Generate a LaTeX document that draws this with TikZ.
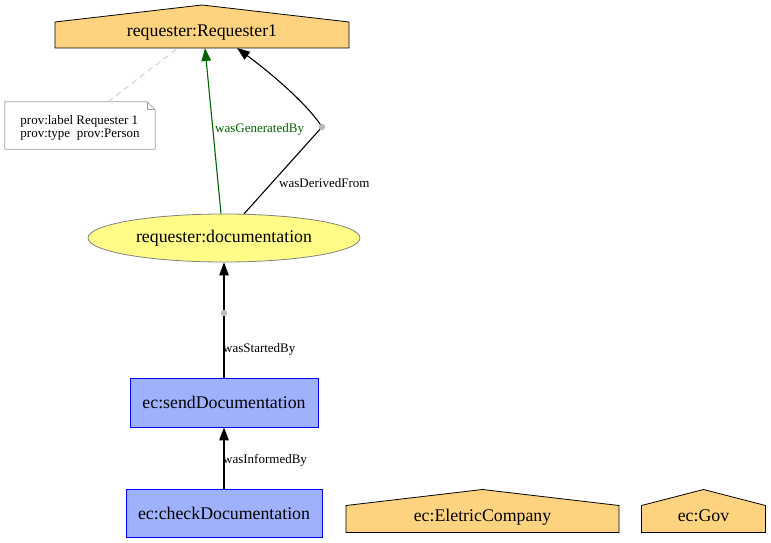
\documentclass[tikz,border=0pt]{standalone}
\usepackage{fontspec}
\setmainfont{Liberation Serif}
\usetikzlibrary{arrows.meta,shapes.geometric,calc}
\definecolor{agentfill}{RGB}{254,211,127}
\definecolor{actfill}{RGB}{159,177,252}
\definecolor{entfill}{RGB}{255,252,135}
\definecolor{gengreen}{RGB}{0,100,0}
\definecolor{dotgray}{RGB}{185,185,185}
\definecolor{dashgray}{RGB}{200,200,200}
\definecolor{notegray}{RGB}{160,160,160}

% house outline around a named node: #1 node name, #2 shoulder depth
\newcommand\drawhouse[2]{%
  \draw[houseline] (#1.south west) -- ($(#1.north west)+(0,#2)$) -- (#1.north)
    -- ($(#1.north east)+(0,#2)$) -- (#1.south east) -- cycle;}

\begin{document}
\begin{tikzpicture}[x=1pt,y=-1pt,
  big/.style={font=\fontsize{17.8}{20}\selectfont},
  small/.style={font=\fontsize{13}{13}\selectfont},
  agent/.style={big,inner sep=0pt,outer sep=0pt,text height=24pt,text depth=3.6pt},
  houseline/.style={draw=black,fill=agentfill,line width=0.8pt},
  activity/.style={big,draw=blue,fill=actfill,line width=0.8pt,inner sep=0pt,minimum height=48pt},
  entity/.style={big,ellipse,draw=gray,fill=entfill,line width=0.8pt,inner sep=0pt,minimum width=272pt,minimum height=48pt},
  joint/.style={circle,inner sep=0pt,minimum size=6.5pt},
  edge/.style={black,line width=1.1pt},
  tip/.style={-{Triangle[length=13pt,width=9.5pt]}},
  elabel/.style={small,anchor=base west,inner sep=0pt},
  notebox/.style={small,align=left,inner sep=0pt,minimum width=150pt,minimum height=47pt}
]
\useasboundingbox (0,0) rectangle (771,543);

% agents (house shapes)
\node[agent,minimum width=294pt,minimum height=43pt] (req) at (202,26.5) {};
\drawhouse{req}{17}
\node[agent] at (req) {requester:Requester1};

\node[agent,minimum width=273pt,minimum height=43pt] (ec) at (482.5,511) {};
\drawhouse{ec}{16}
\node[agent] at (ec) {ec:EletricCompany};

\node[agent,minimum width=124pt,minimum height=43pt] (gov) at (703.5,511) {};
\drawhouse{gov}{16}
\node[agent] at (gov) {ec:Gov};

% entity and activities
\node[entity] (doc) at (224,238) {requester:documentation};
\node[activity,minimum width=188pt,minimum height=49pt] (send) at (224,402.5) {ec:sendDocumentation};
\node[activity,minimum width=196pt] (check) at (224,513) {ec:checkDocumentation};

% attribute note with folded corner
\node[notebox] (note) at (80,125.5) {};
\draw[notegray,line width=0.7pt,fill=white] (note.south west) -- (note.north west)
  -- ($(note.north east)+(-8,0)$) -- ($(note.north east)+(0,8)$) -- (note.south east) -- cycle;
\draw[notegray,line width=0.7pt] ($(note.north east)+(-8,0)$) -- ($(note.north east)+(-8,8)$)
  -- ($(note.north east)+(0,8)$);
\node[small,align=left,inner sep=0pt] (notetext) at ($(note)+(0,2)$) {prov:label Requester 1\\prov:type\ \ prov:Person};
\draw[dashgray,line width=0.8pt,dash pattern=on 6pt off 4pt] ($(note.north)+(28,0)$) -- ($(req.south)+(-24,0)$);

% joints of the relations
\node[joint] (j1) at (322,127) {};
\node[joint] (j2) at (224,313) {};

% relations
\draw[edge,gengreen,tip] ($(doc.north)+(-3,0)$) -- ($(req.south)+(3,0)$);
\node[elabel,gengreen] (lgen) at (215,132) {wasGeneratedBy};

\draw[edge] ($(doc.north)+(20,0.3)$) -- (j1.center);
\draw[edge,tip] (j1.center) .. controls (310,108) and (280,80) .. ($(req.south)+(35,0)$);
\node[elabel] (lder) at (279,187) {wasDerivedFrom};

\draw[edge] (send.north) -- (j2.center);
\draw[edge,tip] (j2.center) -- (doc.south);
\node[elabel] (lsta) at (223,352) {wasStartedBy};

\draw[edge,tip] (check.north) -- (send.south);
\node[elabel] (linf) at (223,463) {wasInformedBy};

% joint dots drawn over the relation lines
\fill[dotgray] (j1) circle[radius=3.2pt];
\fill[dotgray] (j2) circle[radius=3.2pt];
\end{tikzpicture}
\end{document}
